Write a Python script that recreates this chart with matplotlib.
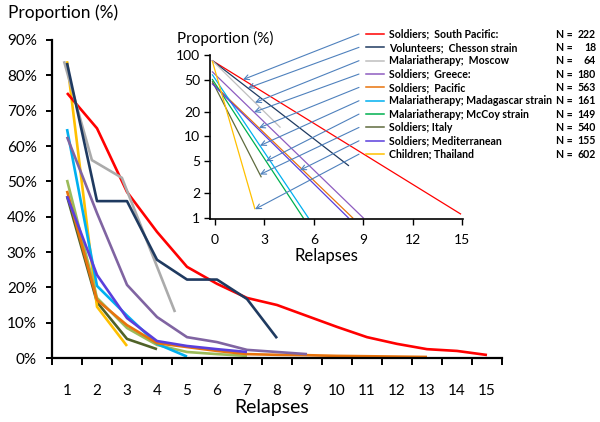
import numpy as np
import matplotlib
matplotlib.use("Agg")
import matplotlib.pyplot as plt
from matplotlib.lines import Line2D
from matplotlib.ticker import FixedLocator, FuncFormatter, NullFormatter

plt.rcParams['font.family'] = ['Lato', 'DejaVu Sans']

# ---------------- data ----------------
series_names = ["Soldiers;  South Pacific:", "Volunteers;  Chesson strain", "Malariatherapy;  Moscow",
                "Soldiers;  Greece:", "Soldiers;  Pacific", "Malariatherapy; Madagascar strain",
                "Malariatherapy; McCoy strain", "Soldiers; Italy", "Soldiers; Mediterranean",
                "Children; Thailand"]
series_n = [222, 18, 64, 180, 563, 161, 149, 540, 155, 602]

main_colors = ['#FF0000', '#1F3A60', '#ABABAB', '#8064A2', '#E8730C', '#00B0F0',
               '#9BBB59', '#4F6228', '#5A3FDC', '#FFC000']
inset_colors = ['#FF0000', '#1F3A60', '#BFBFBF', '#8E5CC0', '#E8730C', '#00B0F0',
                '#00B050', '#5F6B3E', '#5A3FDC', '#FFC000']
main_order = [2.6, 3.0, 2.9, 2.4, 2.3, 2.2, 2.1, 2.0, 2.5, 2.05]

# main chart: proportion (%) per relapse number
red_x = [1, 2, 3, 4, 5, 6, 7, 8, 9, 10, 11, 12, 13, 14, 15]
red_y = [75, 65, 47, 35.7, 25.8, 21, 17, 15, 11.9, 8.8, 5.9, 4.0, 2.5, 2.0, 0.85]
navy_x = [1, 2, 3, 4, 5, 6, 7, 8]
navy_y = [83.5, 44.4, 44.4, 27.8, 22.2, 22.2, 16.7, 5.6]
gray_x = [0.9, 1.83, 2.83, 4.6]
gray_y = [84, 56, 51, 13]
purple_x = [1, 2, 3, 4, 5, 6, 7, 8, 9]
purple_y = [62.6, 41, 20.7, 11.6, 5.9, 4.5, 2.3, 1.7, 1.1]
orange_x = [1, 2, 3, 4, 5, 6, 7, 8, 9, 10, 11, 12, 13]
orange_y = [47.3, 16.4, 9.3, 4.2, 3.1, 2.0, 1.1, 0.9, 0.8, 0.6, 0.5, 0.4, 0.3]
cyan_x = [1, 2, 3, 4, 5]
cyan_y = [64.8, 20.4, 12.0, 4.0, 0.4]
green_x = [1, 2, 3, 4, 5, 6, 7]
green_y = [50.4, 17, 8.5, 3.7, 1.7, 1.1, 0.6]
olive_x = [1, 2, 3, 4]
olive_y = [45.8, 15.8, 5.4, 2.5]
blue_x = [1, 2, 3, 4, 5, 6, 7]
blue_y = [45.8, 23.5, 11.3, 4.8, 3.4, 2.5, 1.7]
yellow_x = [1, 2, 3]
yellow_y = [84, 14.5, 3.4]

main_x = [red_x, navy_x, gray_x, purple_x, orange_x, cyan_x, green_x, olive_x, blue_x, yellow_x]
main_y = [red_y, navy_y, gray_y, purple_y, orange_y, cyan_y, green_y, olive_y, blue_y, yellow_y]

# inset: fitted exponential decay lines (log scale)
inset_x0 = [-0.15] * 10
inset_y0 = [85, 85, 85, 62, 45, 57, 50, 47, 44, 83]
inset_x1 = [14.9, 8.1, 3.95, 9.0, 8.36, 5.67, 5.36, 2.8, 8.1, 2.42]
inset_y1 = [1.12, 4.4, 13, 1.0, 1.0, 1.0, 1.0, 3.2, 1.0, 1.3]
arrow_x = [1.7, 2.0, 2.43, 2.37, 2.67, 2.73, 3.1, 2.73, 5.16, 2.43]

main_xticks = list(range(1, 16))
main_yticks = [0, 10, 20, 30, 40, 50, 60, 70, 80, 90]
inset_xticks = [0, 3, 6, 9, 12, 15]
inset_yticks = [1, 2, 5, 10, 20, 50, 100]

# ---------------- figure ----------------
W, H = 600, 422
fig = plt.figure(figsize=(W / 100, H / 100), dpi=100)

def fx(px):
    return px / W

def fy(py):
    return 1 - py / H

ax = fig.add_axes([fx(52), fy(358), fx(502) - fx(52), fy(40) - fy(358)])
for xs, ys, c, z in zip(main_x, main_y, main_colors, main_order):
    ax.plot(xs, ys, color=c, lw=1.9, solid_capstyle='butt', solid_joinstyle='round', zorder=z)
ax.set_xlim(0.5, 15.5)
ax.set_ylim(0, 90)
for s in ['top', 'right']:
    ax.spines[s].set_visible(False)
for s in ['left', 'bottom']:
    ax.spines[s].set_linewidth(1.6)
    ax.spines[s].set_zorder(4)
ax.set_yticks(main_yticks)
ax.yaxis.set_major_formatter(FuncFormatter(lambda v, p: f"{int(v)}%"))
ax.tick_params(axis='y', direction='out', length=4, width=1.4, labelsize=11, pad=7)
ax.set_xticks(main_xticks)
ax.set_xticklabels([str(v) for v in main_xticks])
ax.tick_params(axis='x', which='major', length=0, labelsize=11, pad=19)
ax.xaxis.set_minor_locator(FixedLocator(np.arange(0.5, 15.6, 1.0)))
ax.xaxis.set_minor_formatter(NullFormatter())
ax.tick_params(axis='x', which='minor', direction='out', length=5, width=1.4)
fig.text(fx(8), fy(13), "Proportion (%)", fontsize=12.5, ha='left', va='center')
fig.text(fx(272), fy(408), "Relapses", fontsize=14, ha='center', va='center')

# ---------------- inset ----------------
ia = fig.add_axes([fx(210), fy(219), fx(463) - fx(210), fy(55) - fy(219)])
ia.set_yscale('log')
ia.set_xlim(-0.3, 15.05)
ia.set_ylim(0.97, 100)
ia.patch.set_alpha(0)
for x0, y0, x1, y1, c in zip(inset_x0, inset_y0, inset_x1, inset_y1, inset_colors):
    ia.plot([x0, x1], [y0, y1], color=c, lw=0.9)
for s in ['top', 'right']:
    ia.spines[s].set_visible(False)
for s in ['left', 'bottom']:
    ia.spines[s].set_linewidth(1.2)
ia.set_yticks(inset_yticks)
ia.yaxis.set_major_formatter(FuncFormatter(lambda v, p: f"{int(v)}"))
ia.yaxis.set_minor_locator(FixedLocator([]))
ia.set_xticks(inset_xticks)
ia.tick_params(axis='both', direction='out', length=4, width=1.0, labelsize=10, pad=3)
ia.tick_params(axis='x', pad=7)
fig.text(fx(177), fy(38), "Proportion (%)", fontsize=11, ha='left', va='center')
fig.text(fx(326), fy(256), "Relapses", fontsize=12, ha='center', va='center')

# ---------------- legend + arrows ----------------
row0, drow = 34, 13.35
for i, (name, n, c) in enumerate(zip(series_names, series_n, inset_colors)):
    ry = row0 + i * drow
    fig.add_artist(Line2D([fx(366), fx(384)], [fy(ry), fy(ry)], color=c, lw=1.1))
    fig.text(fx(389), fy(ry), name, fontsize=7.6, fontweight='bold', ha='left', va='center')
    fig.text(fx(556), fy(ry), "N =", fontsize=7.6, fontweight='bold', ha='left', va='center')
    fig.text(fx(596), fy(ry), str(n), fontsize=7.6, fontweight='bold', ha='right', va='center')
    # arrow head on the inset line
    t = (arrow_x[i] - inset_x0[i]) / (inset_x1[i] - inset_x0[i])
    hy = 10 ** (np.log10(inset_y0[i]) + t * (np.log10(inset_y1[i]) - np.log10(inset_y0[i])))
    ia.annotate("", xy=(arrow_x[i], hy), xycoords='data',
                xytext=(fx(359), fy(ry)), textcoords='figure fraction',
                arrowprops=dict(arrowstyle='->', color='#4F81BD', lw=0.8,
                                shrinkA=0, shrinkB=0, mutation_scale=9),
                annotation_clip=False)

fig.savefig("out.png", dpi=100)
